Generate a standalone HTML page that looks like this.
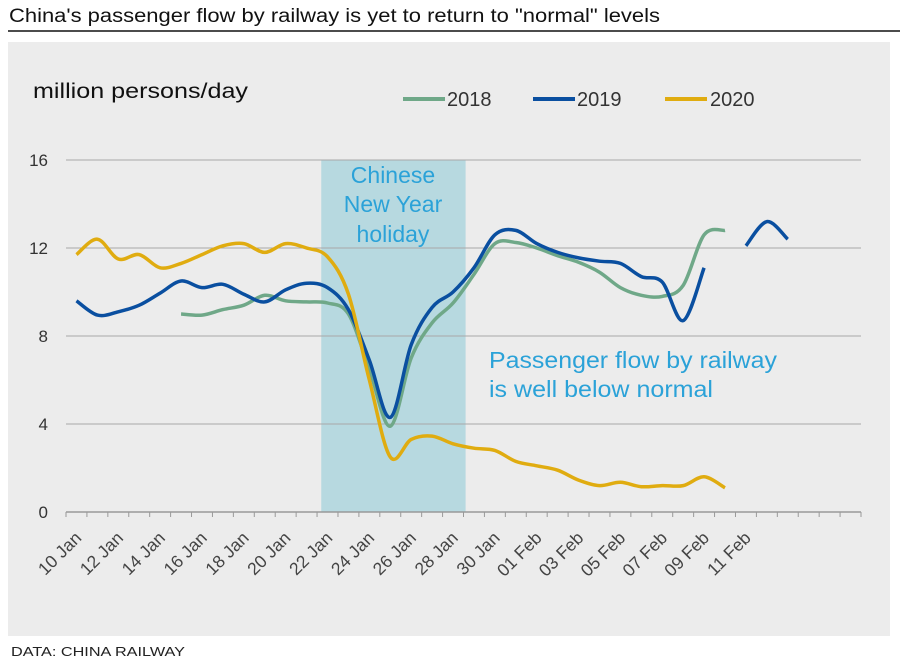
<!DOCTYPE html>
<html><head><meta charset="utf-8"><style>
body{margin:0;background:#fff;width:902px;height:663px;overflow:hidden;font-family:"Liberation Sans",sans-serif}
</style></head><body>
<svg width="902" height="663" xmlns="http://www.w3.org/2000/svg" font-family="Liberation Sans, sans-serif">
<text x="9" y="22" font-size="19" fill="#111" textLength="651" lengthAdjust="spacingAndGlyphs">China's passenger flow by railway is yet to return to "normal" levels</text>
<line x1="8" y1="31" x2="900" y2="31" stroke="#111" stroke-width="1.5"/>
<rect x="8" y="42" width="882" height="594" fill="#ececec"/>
<g id="shade"></g>
<g id="grid"></g>
<g id="series"></g>
<g id="xaxis"></g>
<text x="33" y="98" font-size="21" fill="#111" textLength="215" lengthAdjust="spacingAndGlyphs">million persons/day</text>
<g>
<line x1="403" y1="99" x2="445" y2="99" stroke="#6fa888" stroke-width="4"/>
<text x="447" y="106" font-size="20" fill="#333">2018</text>
<line x1="533" y1="99" x2="575" y2="99" stroke="#0a4fa0" stroke-width="4"/>
<text x="577" y="106" font-size="20" fill="#333">2019</text>
<line x1="665" y1="99" x2="707" y2="99" stroke="#e0ac10" stroke-width="4"/>
<text x="710" y="106" font-size="20" fill="#333">2020</text>
</g>
<g font-size="23" fill="#2ba2d8" text-anchor="middle">
<text x="393" y="183">Chinese</text><text x="393" y="212">New Year</text><text x="393" y="242">holiday</text>
</g>
<g font-size="23" fill="#2ba2d8">
<text x="489" y="368" textLength="288" lengthAdjust="spacingAndGlyphs">Passenger flow by railway</text><text x="489" y="397" textLength="224" lengthAdjust="spacingAndGlyphs">is well below normal</text>
</g>
<text x="11" y="656" font-size="13" fill="#222" textLength="174" lengthAdjust="spacingAndGlyphs">DATA: CHINA RAILWAY</text>
</svg>
<script>
const days = ["10 Jan","11 Jan","12 Jan","13 Jan","14 Jan","15 Jan","16 Jan","17 Jan","18 Jan","19 Jan","20 Jan","21 Jan","22 Jan","23 Jan","24 Jan","25 Jan","26 Jan","27 Jan","28 Jan","29 Jan","30 Jan","31 Jan","01 Feb","02 Feb","03 Feb","04 Feb","05 Feb","06 Feb","07 Feb","08 Feb","09 Feb","10 Feb","11 Feb","12 Feb","13 Feb","14 Feb","15 Feb","16 Feb"];
const yTicks = [0,4,8,12,16];
const holiday = [12.2, 19.1];
const s2018 = [null,null,null,null,null,9.0,8.95,9.2,9.4,9.85,9.6,9.55,9.5,9.0,6.5,3.9,7.0,8.6,9.5,10.8,12.2,12.25,12.0,11.65,11.35,10.9,10.2,9.85,9.8,10.3,12.6,12.8];
const s2019 = [9.6,8.95,9.1,9.4,9.95,10.5,10.2,10.35,9.9,9.55,10.1,10.4,10.2,9.2,6.9,4.3,7.6,9.3,10.0,11.1,12.6,12.8,12.2,11.8,11.55,11.4,11.3,10.7,10.45,8.7,11.1,null,12.1,13.2,12.4];
const s2020 = [11.7,12.4,11.5,11.7,11.1,11.3,11.7,12.1,12.2,11.8,12.2,12.0,11.6,9.9,6.0,2.5,3.3,3.45,3.1,2.9,2.8,2.3,2.1,1.9,1.45,1.2,1.35,1.15,1.2,1.2,1.6,1.1];

const X0=66, X1=861, Y0=512, Y16=160;
const step=(X1-X0)/days.length;
const x=i=>X0+step*(i+0.5);
const xe=v=>X0+step*v;
const y=v=>Y0-(Y0-Y16)*v/16;
const NS="http://www.w3.org/2000/svg";
function mk(tag,attrs,parent){const e=document.createElementNS(NS,tag);for(const k in attrs)e.setAttribute(k,attrs[k]);parent.appendChild(e);return e;}

const shade=document.getElementById('shade');
const r=mk('rect',{x:xe(holiday[0]),y:Y16,width:xe(holiday[1])-xe(holiday[0]),height:Y0-Y16,fill:'#b7d9e0'},shade);



const grid=document.getElementById('grid');
yTicks.forEach(t=>{
  if(t>0){const l=mk('line',{x1:X0,x2:X1,y1:y(t),y2:y(t),stroke:'#a8a8a8','stroke-width':1},grid);
  
  }
  const tx=mk('text',{x:48,y:y(t)+6,'font-size':17,fill:'#333','text-anchor':'end'},grid);
  tx.textContent=t;
  
  
});

const xa=document.getElementById('xaxis');
const ax=mk('line',{x1:X0,x2:X1,y1:Y0,y2:Y0,stroke:'#999','stroke-width':1.5},xa);


for(let k=0;k<=days.length;k++){
  const t=mk('line',{x1:xe(k),x2:xe(k),y1:Y0,y2:Y0+5,stroke:'#999','stroke-width':1},xa);
  
  
}
days.forEach((d,i)=>{
  if(i%2!==0||i>32)return;
  const px=x(i)+6,py=Y0+27;
  const t=mk('text',{x:px,y:py,'font-size':17.5,fill:'#444','text-anchor':'end',transform:`rotate(-45 ${px} ${py})`},xa);
  t.textContent=d;
  
  
});

function segPath(pts){
  if(pts.length<2)return '';
  let d=`M${pts[0][0]},${pts[0][1]}`;
  for(let i=0;i<pts.length-1;i++){
    const p0=pts[i-1]||pts[i],p1=pts[i],p2=pts[i+1],p3=pts[i+2]||p2;
    const c1=[p1[0]+(p2[0]-p0[0])/6,p1[1]+(p2[1]-p0[1])/6];
    const c2=[p2[0]-(p3[0]-p1[0])/6,p2[1]-(p3[1]-p1[1])/6];
    d+=` C${c1[0]},${c1[1]} ${c2[0]},${c2[1]} ${p2[0]},${p2[1]}`;
  }
  return d;
}
const ser=document.getElementById('series');
[[s2018,'#6fa888','2018'],[s2019,'#0a4fa0','2019'],[s2020,'#e0ac10','2020']].forEach(([arr,c,n])=>{
  let segs=[],cur=[];
  arr.forEach((v,i)=>{if(v==null){if(cur.length)segs.push(cur);cur=[];}else cur.push([x(i),y(v)]);});
  if(cur.length)segs.push(cur);
  const p=mk('path',{d:segs.map(segPath).join(' '),fill:'none',stroke:c,'stroke-width':3.5,'stroke-linejoin':'round'},ser);
  
  
});
</script>
</body></html>
